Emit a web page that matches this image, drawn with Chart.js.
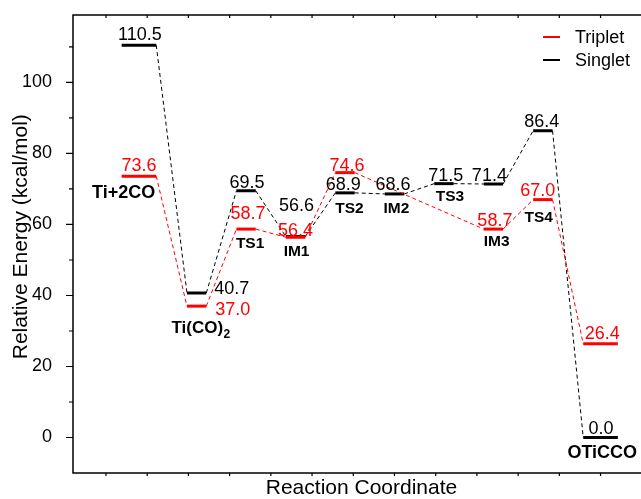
<!DOCTYPE html>
<html>
<head>
<meta charset="utf-8">
<script src="https://cdn.jsdelivr.net/npm/chart.js@4/dist/chart.umd.min.js"></script>
<style>
  html, body { margin: 0; padding: 0; overflow: hidden; background: #fff; }
  #wrap { position: relative; width: 652px; height: 499px; }
</style>
</head>
<body>
<div id="wrap"><canvas id="pes"></canvas></div>
<script>
// ---- data (kcal/mol) ----
const states  = ['Ti+2CO', 'Ti(CO)2', 'TS1', 'IM1', 'TS2', 'IM2', 'TS3', 'IM3', 'TS4', 'OTiCCO'];
const coord   = [1.6, 3.0, 4.2, 5.4, 6.6, 7.8, 9.0, 10.2, 11.4, 12.8];
const triplet = [73.6, 37.0, 58.7, 56.4, 74.6, null, null, 58.7, 67.0, 26.4];
const singlet = [110.5, 40.7, 69.5, 56.6, 68.9, 68.6, 71.5, 71.4, 86.4, 0.0];
const yTicks      = [0, 20, 40, 60, 80, 100];
const yMinorTicks = [10, 30, 50, 70, 90, 110];
const xTicks      = [0.8, 1.8, 2.8, 3.8, 4.8, 5.8, 6.8, 7.8, 8.8, 9.8, 10.8, 11.8, 12.8, 13.8];
const yTitle = 'Relative Energy (kcal/mol)';

// ---- look & placement (pixels) ----
const FONT = '"Liberation Sans", Arial, sans-serif';
const RED = '#ff0000', BLACK = '#000000';

// value label nudges [dx, dy] from the bar centre
const valueNudge = {
  Triplet: [[0, -12], [36, 2.5], [2, -16.5], [0, -7.5], [2, -8], null, null, [1.5, -9.5], [-5, -10.5], [1.7, -11]],
  Singlet: [[1, -11.5], [35, -5], [1, -9], [1, -32], [-1.7, -9], [-1.5, -10], [1.8, -9], [-4, -9.5], [-1, -10.5], [0.5, -10]]
};
// state name nudges from the lowest bar of each state
const nameNudge = [[-15.3, 15.3], [0.6, 20.6], [4, 13.6], [1, 13.5], [4.5, 14.3], [2, 13.2], [6, 12.3], [3.3, 11], [-4.2, 16.4], [1.7, 14]];
const nameSize  = [18, 17, 15.5, 15.5, 15.5, 15.5, 15.5, 15.5, 15.5, 18];

const halfWidth = i => (i === 0 || i === states.length - 1) ? 0.42 : 0.235;

// each level is two points (left/right end); even segments = level bar, odd = dashed connector
function levelPoints(values) {
  const pts = [];
  values.forEach((v, i) => {
    if (v === null) return;
    pts.push({ x: coord[i] - halfWidth(i), y: v, state: i });
    pts.push({ x: coord[i] + halfWidth(i), y: v, state: i });
  });
  return pts;
}

const isBar = ctx => ctx.p0DataIndex % 2 === 0;

function makeDataset(label, values, color) {
  return {
    label: label,
    data: levelPoints(values),
    values: values,
    borderColor: color,
    backgroundColor: color,
    borderWidth: 1,
    pointRadius: 0,
    pointHoverRadius: 0,
    tension: 0,
    fill: false,
    borderCapStyle: 'butt',
    segment: {
      borderWidth: ctx => isBar(ctx) ? 3 : 1,
      borderDash: ctx => isBar(ctx) ? [] : [4, 3]
    }
  };
}

function capText(ctx, str, x, cy, size, weight, color, align) {
  ctx.font = `${weight} ${size}px ${FONT}`;
  ctx.fillStyle = color;
  ctx.textAlign = align || 'center';
  ctx.textBaseline = 'alphabetic';
  ctx.fillText(str, x, cy + 0.358 * size);
}

const decor = {
  id: 'decor',
  afterDatasetsDraw(chart) {
    const { ctx, chartArea: a, scales: { x, y } } = chart;
    ctx.save();

    // frame + ticks
    ctx.strokeStyle = BLACK;
    ctx.lineWidth = 1.5;
    ctx.strokeRect(a.left, a.top, a.right - a.left, a.bottom - a.top);
    ctx.lineWidth = 1.2;
    ctx.beginPath();
    yTicks.forEach(v => { const p = y.getPixelForValue(v); ctx.moveTo(a.left - 7, p); ctx.lineTo(a.left, p); });
    yMinorTicks.forEach(v => { const p = y.getPixelForValue(v); ctx.moveTo(a.left - 4, p); ctx.lineTo(a.left, p); });
    xTicks.forEach(v => {
      const p = x.getPixelForValue(v);
      ctx.moveTo(p, a.bottom); ctx.lineTo(p, a.bottom + 3);
      ctx.moveTo(p, a.top); ctx.lineTo(p, a.top + 3);
    });
    ctx.stroke();

    // y axis title (sits a little above the plot's middle in the original)
    ctx.save();
    ctx.translate(19.2, 236.7);
    ctx.rotate(-Math.PI / 2);
    capText(ctx, yTitle, 0, 0, 21, 'normal', BLACK);
    ctx.restore();

    // energy values
    chart.data.datasets.forEach(ds => {
      ds.values.forEach((v, i) => {
        const n = valueNudge[ds.label][i];
        if (v === null || !n) return;
        capText(ctx, v.toFixed(1), x.getPixelForValue(coord[i]) + n[0], y.getPixelForValue(v) + n[1], 18, 'normal', ds.borderColor);
      });
    });

    // state names under the lowest level
    states.forEach((name, i) => {
      const low = Math.min(...[triplet[i], singlet[i]].filter(v => v !== null));
      const cx = x.getPixelForValue(coord[i]) + nameNudge[i][0];
      const cy = y.getPixelForValue(low) + nameNudge[i][1];
      const m = name.match(/^(.*\))(\d)$/);
      if (m) {
        ctx.font = `bold ${nameSize[i]}px ${FONT}`;
        const w = ctx.measureText(m[1]).width;
        capText(ctx, m[1], cx, cy, nameSize[i], 'bold', BLACK);
        capText(ctx, m[2], cx + w / 2 + 0.5, cy + 6.8, 12, 'bold', BLACK, 'left');
      } else {
        capText(ctx, name, cx, cy, nameSize[i], 'bold', BLACK);
      }
    });

    // legend
    chart.data.datasets.forEach((ds, k) => {
      const ly = 37 + k * 23;
      ctx.strokeStyle = ds.borderColor;
      ctx.lineWidth = 2;
      ctx.setLineDash([]);
      ctx.beginPath();
      ctx.moveTo(543, ly); ctx.lineTo(560, ly);
      ctx.stroke();
      capText(ctx, ds.label, 575, ly, 18, 'normal', BLACK, 'left');
    });

    ctx.restore();
  }
};

Chart.defaults.font.family = FONT;
Chart.defaults.color = BLACK;

new Chart(document.getElementById('pes'), {
  type: 'line',
  data: {
    datasets: [
      makeDataset('Triplet', triplet, RED),
      makeDataset('Singlet', singlet, BLACK)
    ]
  },
  options: {
    responsive: true,
    maintainAspectRatio: false,
    animation: false,
    events: [],
    layout: { padding: { top: 15, right: 2, left: 0, bottom: 0 } },
    plugins: {
      legend: { display: false },
      tooltip: { enabled: false }
    },
    scales: {
      x: {
        type: 'linear',
        min: 0,
        max: 14,
        grid: { display: false },
        border: { display: false },
        ticks: { display: false },
        afterBuildTicks: s => { s.ticks = []; },
        afterFit: s => { s.height = 26; s.paddingLeft = 0; s.paddingRight = 0; },
        title: {
          display: true,
          text: 'Reaction Coordinate',
          font: { size: 21, lineHeight: 1 },
          padding: { top: 0, bottom: 0 }
        }
      },
      y: {
        min: -10,
        max: 119,
        grid: { display: false },
        border: { display: false },
        afterBuildTicks: s => { s.ticks = yTicks.map(v => ({ value: v })); },
        afterFit: s => { s.width = 73; s.paddingTop = 0; s.paddingBottom = 0; },
        ticks: { font: { size: 18 }, padding: 13 },
        title: { display: false }
      }
    }
  },
  plugins: [decor]
});
</script>
</body>
</html>
